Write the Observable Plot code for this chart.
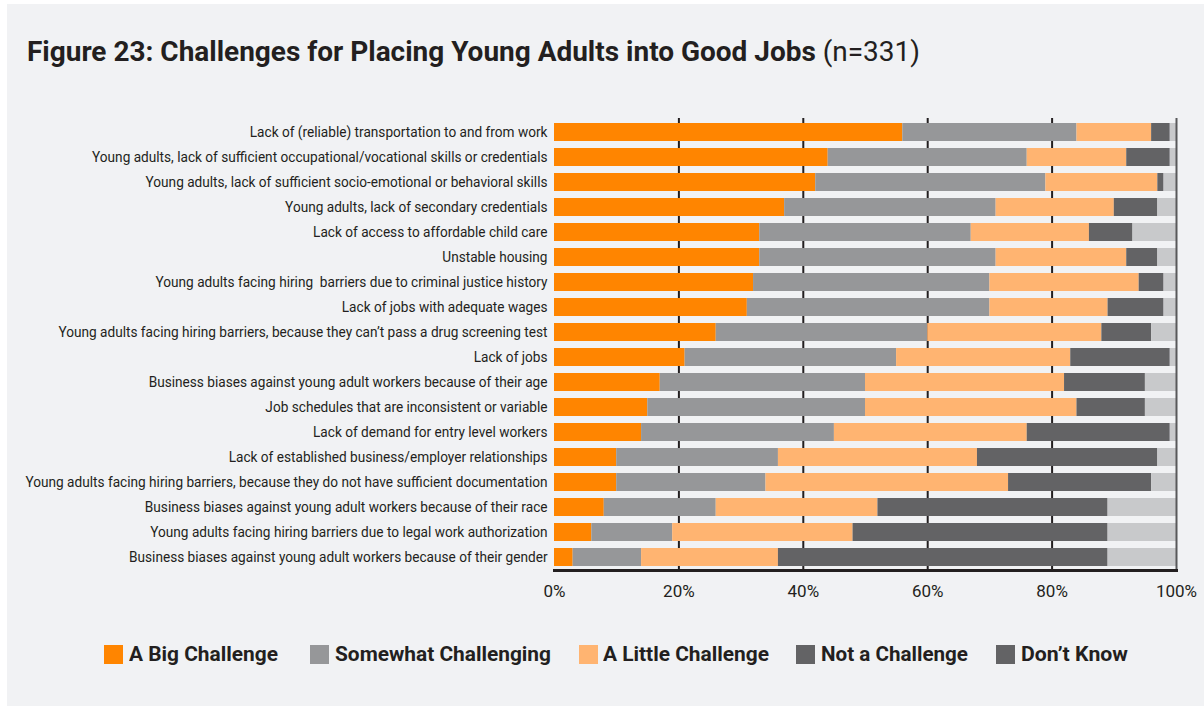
<!DOCTYPE html>
<html>
<head>
<meta charset="utf-8">
<script src="https://cdn.jsdelivr.net/npm/d3@7"></script>
<script src="https://cdn.jsdelivr.net/npm/@observablehq/plot@0.6"></script>
<style>
  html, body { margin: 0; padding: 0; background: #ffffff; width: 1204px; height: 721px; overflow: hidden; }
  #panel { position: absolute; left: 7px; top: 4px; width: 1197px; height: 702px; background: #f1f2f4; }
  #title { position: absolute; left: 27px; top: 38px; font-family: Roboto, sans-serif; font-size: 28px; line-height: 28px; color: #231f20; white-space: nowrap; transform-origin: 0 0; display: inline-block; }
  #title b { font-weight: 700; }
  #title span { font-weight: 400; }
  #chart { position: absolute; left: 0; top: 100px; }
  .sw { position: absolute; top: 645px; width: 19px; height: 19px; }
  .lg { position: absolute; top: 644px; font-family: Roboto, sans-serif; font-weight: 700; font-size: 21px; line-height: 20px; color: #231f20; white-space: nowrap; transform-origin: 0 0; display: inline-block; }
</style>
</head>
<body>
<div id="panel"></div>
<div id="title"><b>Figure 23: Challenges for Placing Young Adults into Good Jobs</b><span> (n=331)</span></div>
<div id="chart"></div>
<div id="legend"></div>
<script>
const categories = [
  "Lack of (reliable) transportation to and from work",
  "Young adults, lack of sufficient occupational/vocational skills or credentials",
  "Young adults, lack of sufficient socio-emotional or behavioral skills",
  "Young adults, lack of secondary credentials",
  "Lack of access to affordable child care",
  "Unstable housing",
  "Young adults facing hiring  barriers due to criminal justice history",
  "Lack of jobs with adequate wages",
  "Young adults facing hiring barriers, because they can\u2019t pass a drug screening test",
  "Lack of jobs",
  "Business biases against young adult workers because of their age",
  "Job schedules that are inconsistent or variable",
  "Lack of demand for entry level workers",
  "Lack of established business/employer relationships",
  "Young adults facing hiring barriers, because they do not have sufficient documentation",
  "Business biases against young adult workers because of their race",
  "Young adults facing hiring barriers due to legal work authorization",
  "Business biases against young adult workers because of their gender"
];
const seriesNames = ["A Big Challenge", "Somewhat Challenging", "A Little Challenge", "Not a Challenge", "Don\u2019t Know"];
const bigChallenge = [56, 44, 42, 37, 33, 33, 32, 31, 26, 21, 17, 15, 14, 10, 10, 8, 6, 3];
const somewhatChallenging = [28, 32, 37, 34, 34, 38, 38, 39, 34, 34, 33, 35, 31, 26, 24, 18, 13, 11];
const littleChallenge = [12, 16, 18, 19, 19, 21, 24, 19, 28, 28, 32, 34, 31, 32, 39, 26, 29, 22];
const notAChallenge = [3, 7, 1, 7, 7, 5, 4, 9, 8, 16, 13, 11, 23, 29, 23, 37, 41, 53];
const dontKnow = [1, 1, 2, 3, 7, 3, 2, 2, 4, 1, 5, 5, 1, 3, 4, 11, 11, 11];
const xTicks = [0, 20, 40, 60, 80, 100];
const gridTicks = [20, 40, 60, 80];

const seriesColors = ["#ff8500", "#969799", "#ffb471", "#636365", "#c8c9cb"];
const legendColors = ["#ff8500", "#969799", "#ffb471", "#636365", "#636365"];

const seriesValues = [bigChallenge, somewhatChallenging, littleChallenge, notAChallenge, dontKnow];
const rows = [];
categories.forEach((c, i) => {
  seriesNames.forEach((s, j) => rows.push({category: c, series: s, value: seriesValues[j][i]}));
});

const chart = Plot.plot({
  width: 1204,
  height: 520,
  marginLeft: 554,
  marginRight: 28,
  marginTop: 18,
  marginBottom: 50,
  style: {background: "transparent", fontFamily: "Roboto, sans-serif", color: "#231f20"},
  x: {domain: [0, 100]},
  y: {domain: categories, paddingInner: 0.3, paddingOuter: 0.15},
  color: {domain: seriesNames, range: seriesColors},
  marks: [
    Plot.ruleX(gridTicks, {stroke: "#231f20", strokeWidth: 2}),
    Plot.barX(rows, {x: "value", y: "category", fill: "series"}),
    Plot.ruleX([100], {stroke: "#58585a", strokeWidth: 2}),
    Plot.frame({anchor: "bottom", stroke: "#231f20", strokeWidth: 3}),
    Plot.axisX({ticks: xTicks, tickFormat: d => d + "%", tickSize: 0, tickPadding: 14, fontSize: 17, label: null}),
    Plot.axisY({tickSize: 0, tickPadding: 7, fontSize: 14.5, label: null})
  ]
});
document.getElementById("chart").appendChild(chart);

// condense y tick labels proportionally to mimic the narrow typeface
const yTexts = Array.from(chart.querySelectorAll('g[aria-label="y-axis tick label"] text'));
if (yTexts.length) {
  const maxW = Math.max(...yTexts.map(t => t.getComputedTextLength()));
  const f = 522 / maxW;
  yTexts.forEach(t => {
    const w = t.getComputedTextLength();
    t.setAttribute("textLength", w * f);
    t.setAttribute("lengthAdjust", "spacingAndGlyphs");
  });
}

// title fit
const title = document.getElementById("title");
title.style.transform = `scaleX(${893 / title.getBoundingClientRect().width})`;

// legend
const legend = document.getElementById("legend");
const swX = [104, 310, 579, 796, 996];
const txX = [129, 335, 603, 821, 1021];
const txEnd = [278, 551, 769, 968, 1128];
seriesNames.forEach((s, i) => {
  const sw = document.createElement("div");
  sw.className = "sw";
  sw.style.left = swX[i] + "px";
  sw.style.background = legendColors[i];
  legend.appendChild(sw);
  const lg = document.createElement("div");
  lg.className = "lg";
  lg.style.left = txX[i] + "px";
  lg.textContent = s;
  legend.appendChild(lg);
  lg.style.transform = `scaleX(${(txEnd[i] - txX[i]) / lg.getBoundingClientRect().width})`;
});
</script>
</body>
</html>
